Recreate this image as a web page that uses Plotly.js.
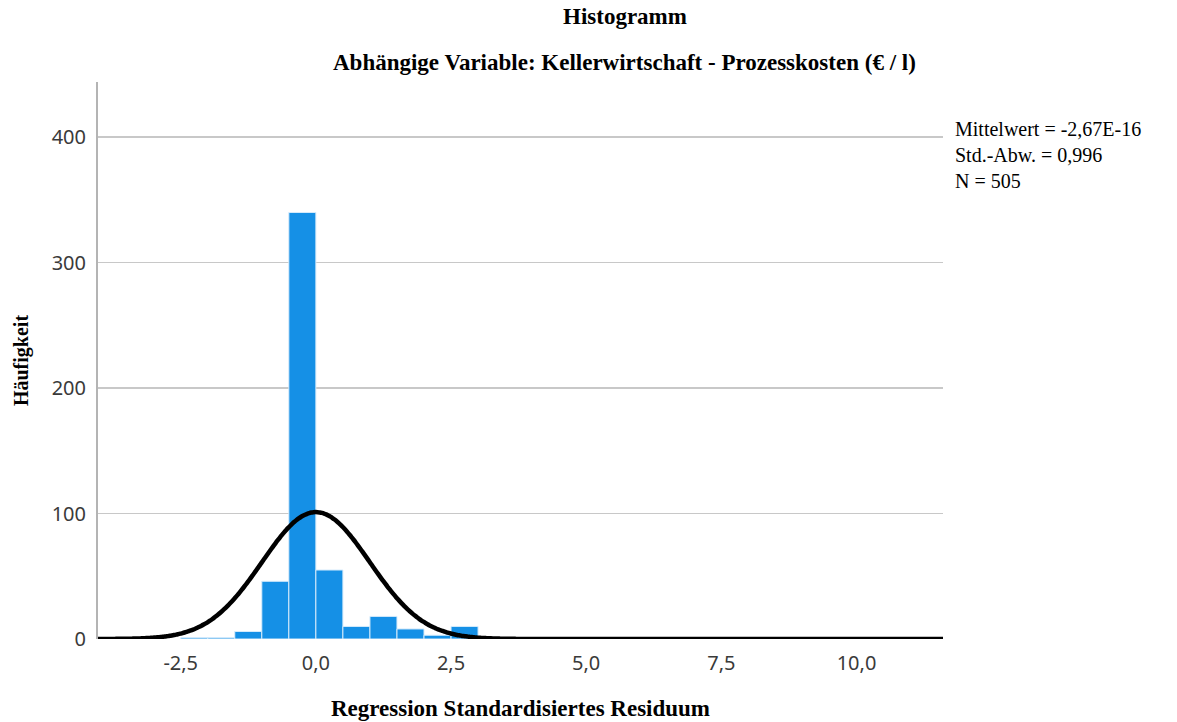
<!DOCTYPE html>
<html>
<head>
<meta charset="utf-8">
<script src="https://cdn.plot.ly/plotly-3.0.1.min.js"></script>
<style>html,body{margin:0;padding:0;background:#fff;}#chart{width:1177px;height:722px;}</style>
</head>
<body>
<div id="chart"></div>
<script>
// Bin centers (bin width 0.5) and counts
const binCenters = [-2.25, -1.75, -1.25, -0.75, -0.25, 0.25, 0.75, 1.25, 1.75, 2.25, 2.75, 5.25, 5.75];
const counts     = [1,     1,     6,     46,    340,   55,   10,   18,   8,    3,    10,   1,    1];
const binWidth = 0.5;

// Summary statistics shown on the chart
const statMean = -2.67e-16;
const statSD = 0.996;
const statN = 505;
const statLabels = ["Mittelwert = -2,67E-16", "Std.-Abw. = 0,996", "N = 505"];

const xTickVals = [-2.5, 0, 2.5, 5, 7.5, 10];
const xTickText = ["-2,5", "0,0", "2,5", "5,0", "7,5", "10,0"];
const yTickVals = [0, 100, 200, 300, 400];

// Normal curve overlay derived from the displayed statistics (as SPSS draws it)
const xMin = -4.03, xMax = 11.6;
const curveX = [], curveY = [];
for (let i = 0; i <= 400; i++) {
  const x = xMin + (xMax - xMin) * i / 400;
  const z = (x - statMean) / statSD;
  curveX.push(x);
  curveY.push(statN * binWidth / (statSD * Math.sqrt(2 * Math.PI)) * Math.exp(-0.5 * z * z));
}

const serif = "Liberation Serif, Times New Roman, serif";
const tickFont = { family: "Noto Sans, DejaVu Sans, sans-serif", size: 20, color: "#3a3a3a" };

const data = [
  {
    type: "bar",
    x: binCenters,
    y: counts,
    width: binWidth,
    marker: { color: "#1590e6", line: { color: "#d6ebfb", width: 1 } },
    hoverinfo: "x+y"
  },
  {
    type: "scatter",
    mode: "lines",
    x: curveX,
    y: curveY,
    line: { color: "#000000", width: 4.5, shape: "spline" },
    hoverinfo: "skip"
  }
];

const layout = {
  width: 1177,
  height: 722,
  paper_bgcolor: "#ffffff",
  plot_bgcolor: "#ffffff",
  showlegend: false,
  separators: ",.",
  margin: { l: 98, r: 234, t: 82, b: 83 },
  bargap: 0,
  xaxis: {
    range: [xMin, xMax],
    tickvals: xTickVals,
    ticktext: xTickText,
    showgrid: false,
    zeroline: false,
    showline: false,
    ticks: "outside",
    ticklen: 6,
    tickcolor: "rgba(0,0,0,0)",
    tickfont: tickFont,
    title: { text: "<b>Regression Standardisiertes Residuum</b>", font: { family: serif, size: 23, color: "#000" }, standoff: 24 }
  },
  yaxis: {
    range: [0, 444],
    tickvals: yTickVals,
    showgrid: true,
    gridcolor: "#c8c8c8",
    gridwidth: 1.5,
    zeroline: false,
    showline: true,
    linecolor: "#b4b4b4",
    linewidth: 2,
    ticks: "outside",
    ticklen: 6,
    tickcolor: "rgba(0,0,0,0)",
    tickfont: tickFont,
    title: { text: "<b>Häufigkeit</b>", font: { family: serif, size: 20, color: "#000" }, standoff: 18 }
  },
  annotations: [
    { text: "<b>Histogramm</b>", xref: "paper", yref: "paper", x: (625 - 98) / 845, y: 1 + (82 - 17) / 557, xanchor: "center", yanchor: "middle", showarrow: false, font: { family: serif, size: 23, color: "#000" } },
    { text: "<b>Abhängige Variable: Kellerwirtschaft - Prozesskosten (€ / l)</b>", xref: "paper", yref: "paper", x: (624 - 98) / 845, y: 1 + (82 - 62) / 557, xanchor: "center", yanchor: "middle", showarrow: false, font: { family: serif, size: 23, color: "#000" } },
    { text: statLabels.join("<br>"), xref: "paper", yref: "paper", x: (953 - 98) / 845, y: 1 - (116 - 82) / 557, xanchor: "left", yanchor: "top", align: "left", showarrow: false, font: { family: serif, size: 20, color: "#000" } }
  ]
};

Plotly.newPlot("chart", data, layout, { displayModeBar: false, staticPlot: true });
</script>
</body>
</html>
